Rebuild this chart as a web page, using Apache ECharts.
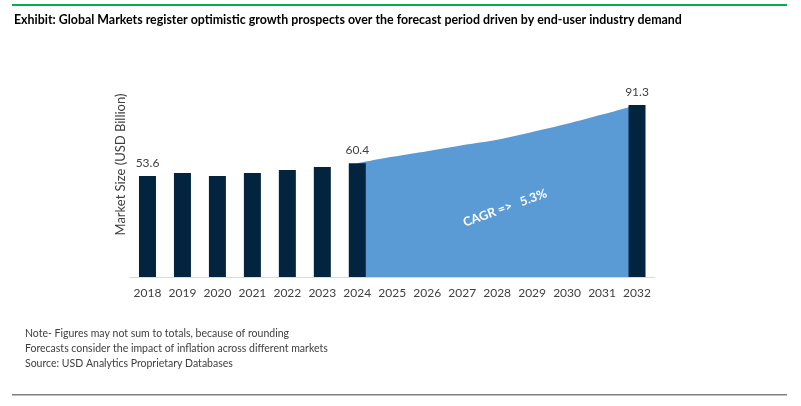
<!DOCTYPE html>
<html>
<head>
<meta charset="utf-8">
<script src="https://cdn.jsdelivr.net/npm/echarts@6/dist/echarts.min.js"></script>
<style>
html,body{margin:0;padding:0;background:#fff;}
#c{width:801px;height:406px;}
</style>
</head>
<body>
<div id="c"></div>
<script>
var years = ['2018','2019','2020','2021','2022','2023','2024','2025','2026','2027','2028','2029','2030','2031','2032'];
var barValues = [53.6, 55.2, 53.6, 55.2, 56.8, 58.4, 60.4, null, null, null, null, null, null, null, 91.3];
var areaValues = [null, null, null, null, null, null, 60.4, 63.8, 66.8, 69.9, 72.8, 76.9, 81.3, 86.2, 91.3];
var labelledYears = ['2018', '2024', '2032'];
var titleText = 'Exhibit: Global Markets register optimistic growth prospects over the forecast period driven by end-user industry demand';
var yAxisName = 'Market Size (USD Billion)';
var cagrText = 'CAGR =>   5.3%';
var notes = ['Note- Figures may not sum to totals, because of rounding',
             'Forecasts consider the impact of inflation across different markets',
             'Source: USD Analytics Proprietary Databases'];

var FONT = 'Lato, "Open Sans", sans-serif';
var chart = echarts.init(document.getElementById('c'), null, {renderer: 'canvas'});

var barData = barValues.map(function (v, i) {
  if (v === null) return null;
  var show = labelledYears.indexOf(years[i]) >= 0;
  return {value: v, label: {show: show}};
});

var graphics = [
  {type: 'rect', z: 100, shape: {x: 12, y: 4, width: 775, height: 2}, style: {fill: '#00B050'}},
  {type: 'text', z: 100, left: 14, top: 14, style: {text: titleText, font: 'bold 12.4px ' + FONT, fill: '#000'}},
  {type: 'rect', z: 100, shape: {x: 12, y: 394, width: 775, height: 1.5}, style: {fill: '#808080'}},
  {type: 'text', z: 100, x: 121, y: 164.5, rotation: Math.PI / 2,
   style: {text: yAxisName, font: '13px ' + FONT, fill: '#404040', align: 'center', verticalAlign: 'middle'}},
  {type: 'text', z: 100, x: 505, y: 208, rotation: 20 * Math.PI / 180,
   style: {text: cagrText, font: 'bold 12.5px ' + FONT, fill: '#fff', align: 'center', verticalAlign: 'middle'}}
];
notes.forEach(function (t, i) {
  graphics.push({type: 'text', z: 100, left: 25, top: 328 + i * 15, style: {text: t, font: '10.5px ' + FONT, fill: '#404040'}});
});

chart.setOption({
  animation: false,
  backgroundColor: '#fff',
  grid: {left: 130, right: 801 - 654.5, top: 88.6, bottom: 129, containLabel: false},
  xAxis: {
    type: 'category',
    data: years,
    axisLine: {lineStyle: {color: '#D9D9D9', width: 1}},
    axisTick: {show: false},
    axisLabel: {color: '#404040', fontFamily: FONT, fontSize: 12, margin: 10, interval: 0}
  },
  yAxis: {
    type: 'value',
    min: 0, max: 100,
    axisLine: {show: false},
    axisTick: {show: false},
    axisLabel: {show: false},
    splitLine: {show: false}
  },
  series: [
    {
      type: 'line',
      data: areaValues,
      smooth: 0.3,
      symbol: 'none',
      lineStyle: {width: 0},
      areaStyle: {color: '#5B9BD5', opacity: 1},
      z: 1
    },
    {
      type: 'bar',
      data: barData,
      barWidth: 17,
      itemStyle: {color: '#03243F'},
      label: {position: 'top', color: '#404040', fontFamily: FONT, fontSize: 12, distance: 7},
      z: 3
    }
  ],
  graphic: graphics
});
</script>
</body>
</html>
